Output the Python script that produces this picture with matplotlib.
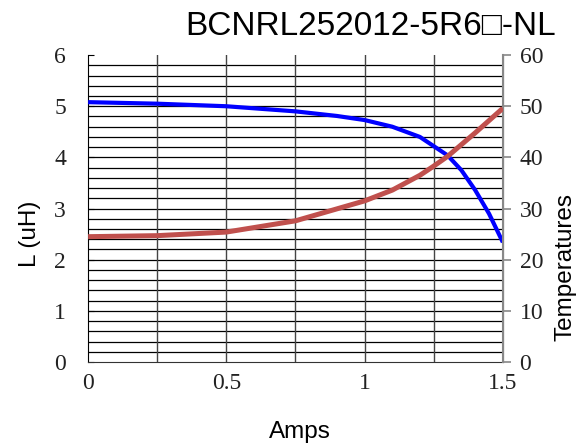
import matplotlib
matplotlib.use("Agg")
import matplotlib.pyplot as plt
import numpy as np

# values
amps_l = [0, 0.25, 0.5, 0.75, 0.9, 1.0, 1.1, 1.2, 1.3, 1.35, 1.4, 1.45, 1.5]
ind_uh = [5.08, 5.05, 5.0, 4.9, 4.81, 4.73, 4.6, 4.4, 4.04, 3.75, 3.36, 2.9, 2.34]
amps_t = [0, 0.25, 0.5, 0.75, 1.0, 1.1, 1.2, 1.25, 1.3, 1.4, 1.5]
temp_c = [24.5, 24.7, 25.4, 27.6, 31.5, 33.6, 36.5, 38.3, 40.2, 44.8, 49.6]
x_ticks = [0, 0.5, 1, 1.5]
x_labels = ["0", "0.5", "1", "1.5"]
l_ticks = [0, 1, 2, 3, 4, 5, 6]
t_ticks = [0, 10, 20, 30, 40, 50, 60]

SERIF = "Liberation Serif"
SANS = ["Liberation Sans", "DejaVu Sans"]

fig = plt.figure(figsize=(5.76, 4.48), dpi=100)
ax = fig.add_axes([0.153, 0.192, 0.72, 0.685])
ax2 = ax.twinx()

# grid: horizontal every 0.2 uH, vertical every 0.25 A
for y in np.arange(0.2, 6.0, 0.2):
    ax.axhline(y, color="black", lw=0.9, zorder=1)
for x in np.arange(0.25, 1.5, 0.25):
    ax.axvline(x, color="#444444", lw=1.0, zorder=1)

ax.plot(amps_l, ind_uh, color="#0000FF", lw=3.0, zorder=3, solid_capstyle="butt")
ax2.plot(amps_t, temp_c, color="#C0504D", lw=3.6, zorder=3, solid_capstyle="butt")

ax.set_xlim(0, 1.5)
ax.set_ylim(0, 6)
ax2.set_ylim(0, 60)
ax.set_xticks(x_ticks)
ax.set_xticklabels(x_labels)
ax.set_yticks(l_ticks)
ax2.set_yticks(t_ticks)

for lab in ax.get_xticklabels() + ax.get_yticklabels() + ax2.get_yticklabels():
    lab.set_fontfamily(SERIF)
    lab.set_fontsize(17)
    lab.set_color("#222222")

ax.tick_params(axis="x", length=0, pad=8)
ax.tick_params(axis="y", direction="in", length=4, pad=16, color="black")
ax2.tick_params(axis="y", direction="out", length=6, pad=6, color="#888888", width=1.2)

ax.spines["top"].set_visible(False)
ax2.spines["top"].set_visible(False)
ax.spines["left"].set_color("black")
ax.spines["bottom"].set_color("#333333")
ax2.spines["right"].set_color("#888888")
ax2.spines["right"].set_linewidth(1.5)
ax2.spines["left"].set_visible(False)
ax2.spines["bottom"].set_visible(False)

ax.set_xlabel("Amps", family=SANS, fontsize=17.5, va="center")
ax.set_ylabel("L (uH)", family=SANS, fontsize=17.5, va="center")
ax2.set_ylabel("Temperatures", family=SANS, fontsize=17.5, va="center")
ax.xaxis.set_label_coords(0.51, -0.228)
ax.yaxis.set_label_coords(-0.14, 0.417)
ax2.yaxis.set_label_coords(1.15, 0.31)

fig.text(0.965, 0.922, "BCNRL252012-5R6\u25a1-NL", family=SANS, fontsize=24,
         ha="right", va="baseline")

fig.savefig("out.png", dpi=100)
